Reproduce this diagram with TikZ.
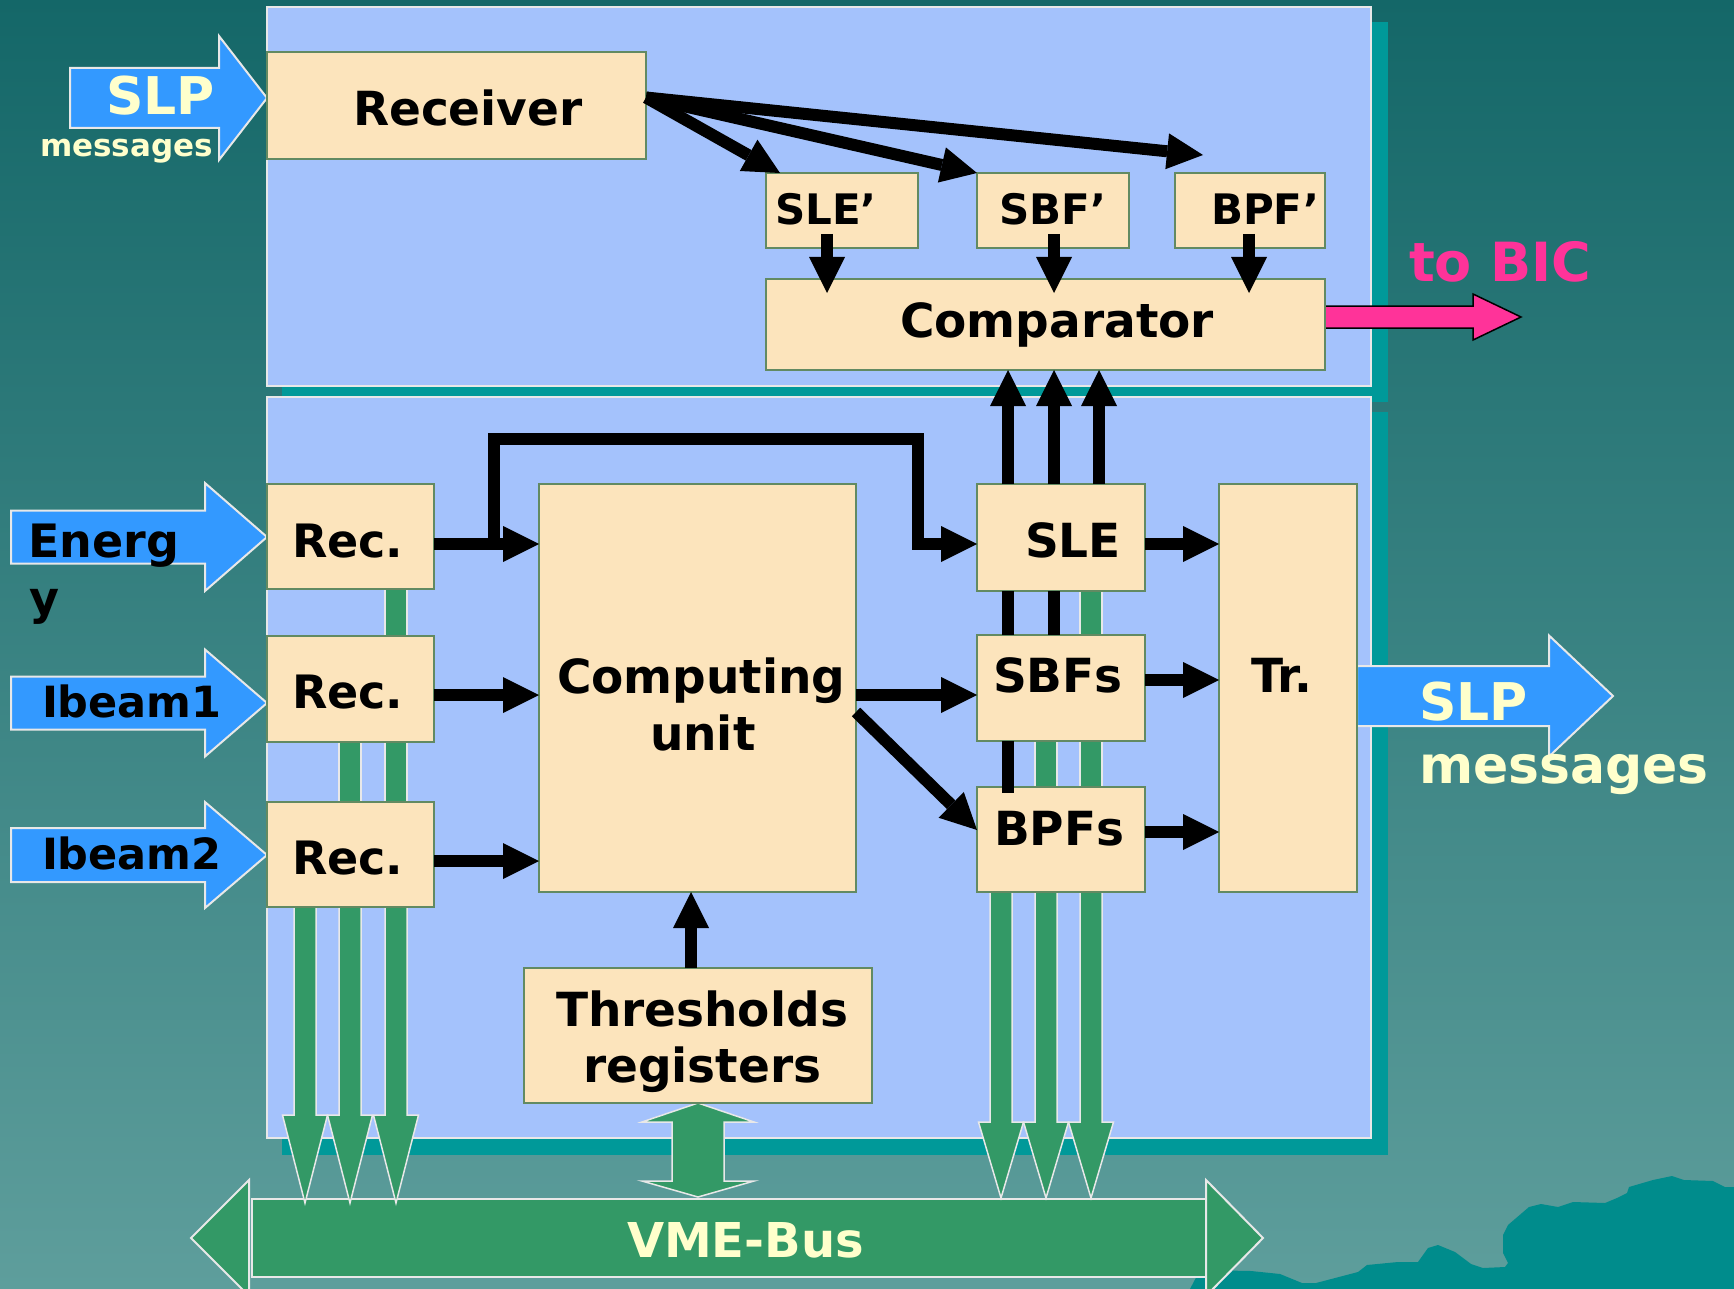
\documentclass[tikz,border=0pt]{standalone}
\usepackage{fontspec}
\setmainfont{DejaVu Sans}
\usetikzlibrary{arrows.meta,calc}
\pgfdeclarelayer{back}
\pgfdeclarelayer{mid}
\pgfsetlayers{back,mid,main}
\definecolor{bgtop}{RGB}{20,103,104}
\definecolor{bgbot}{RGB}{94,158,156}
\definecolor{panelc}{RGB}{164,194,252}
\definecolor{panelline}{RGB}{232,232,232}
\definecolor{shadowc}{RGB}{0,153,153}
\definecolor{boxfill}{RGB}{252,228,188}
\definecolor{boxline}{RGB}{98,138,98}
\definecolor{busgreen}{RGB}{51,153,102}
\definecolor{slpblue}{RGB}{51,153,255}
\definecolor{lightyel}{RGB}{255,255,204}
\definecolor{pinkc}{RGB}{255,51,153}
\definecolor{mount}{RGB}{0,140,140}
\newcommand\fsz[1]{\fontsize{#1}{#1}\selectfont\bfseries}
\newcommand\rblock[6]{\filldraw[#1] let \p1=(#2) in (\x1,\y1) -- (\x1-#4,\y1+#6) -- (\x1-#4,\y1+#5) -- (\x1-#4-#3,\y1+#5) -- (\x1-#4-#3,\y1-#5) -- (\x1-#4,\y1-#5) -- (\x1-#4,\y1-#6) -- cycle;}
\newcommand\greenbar[2]{\filldraw[gbar] let \p1=(#1), \p2=(#2) in (\x1-11pt,\y1) rectangle (\x1+11pt,\y2);}
\newcommand\busarrow[3]{\filldraw[gbar] let \p1=(#1), \p2=(#2) in (\x1-11pt,\y1) -- (\x1-11pt,\y2+#3) -- (\x1-22.5pt,\y2+#3) -- (\x2,\y2) -- (\x1+22.5pt,\y2+#3) -- (\x1+11pt,\y2+#3) -- (\x1+11pt,\y1);}
\begin{document}
\begin{tikzpicture}[x=1pt,y=-1pt,
  box/.style={draw=boxline, fill=boxfill, line width=2pt, inner sep=0pt, outer sep=0pt, rectangle},
  lbl/.style={anchor=base west, inner sep=0pt, outer sep=0pt, text=black},
  arr/.style={line width=12pt, -{Triangle[length=36pt,width=36pt,line width=0pt]}},
  bbar/.style={line width=12pt},
  gbar/.style={fill=busgreen, draw=panelline, line width=1.5pt},
  bluearr/.style={fill=slpblue, draw=panelline, line width=2pt},
  pinkarr/.style={fill=pinkc, draw=black, line width=1.5pt},
  panel/.style={fill=panelc, draw=panelline, line width=2.5pt}]
\useasboundingbox (0,0) rectangle (1734,1289);

\begin{pgfonlayer}{back}
\shade[top color=bgtop, bottom color=bgbot] (0,0) rectangle (1734,1289);
\fill[mount] (1190,1289) -- (1200,1270) -- (1251,1271) -- (1280,1274) -- (1302,1283) -- (1316,1283) -- (1358,1272) -- (1367,1265) -- (1398,1262) -- (1418,1262) -- (1428,1248) -- (1438,1245) -- (1455,1252) -- (1471,1264) -- (1483,1268) -- (1505,1267) -- (1508,1263) -- (1503,1253) -- (1503,1235) -- (1508,1225) -- (1529,1207) -- (1541,1204) -- (1558,1207) -- (1573,1202) -- (1605,1203) -- (1617,1198) -- (1627,1193) -- (1629,1187) -- (1653,1180) -- (1672,1176) -- (1684,1180) -- (1713,1181) -- (1725,1187) -- (1734,1187) -- (1734,1289) -- cycle;
\fill[shadowc] (282,22) rectangle (1388,402);
\filldraw[panel] (267,7) rectangle (1371,386);
\fill[shadowc] (282,412) rectangle (1388,1155);
\filldraw[panel] (267,397) rectangle (1371,1138);
\end{pgfonlayer}

% boxes
\node[box, minimum width=379pt, minimum height=107pt] (rcv) at (456.5,105.5) {};
\node[box, minimum width=152pt, minimum height=75pt] (sle1) at (842,210.5) {};
\node[box, minimum width=152pt, minimum height=75pt] (sbf1) at (1053,210.5) {};
\node[box, minimum width=150pt, minimum height=75pt] (bpf1) at (1250,210.5) {};
\node[box, minimum width=559pt, minimum height=91pt] (cmp) at (1045.5,324.5) {};
\node[box, minimum width=167pt, minimum height=105pt] (rec1) at (350.5,536.5) {};
\node[box, minimum width=167pt, minimum height=106pt] (rec2) at (350.5,689) {};
\node[box, minimum width=167pt, minimum height=105pt] (rec3) at (350.5,854.5) {};
\node[box, minimum width=317pt, minimum height=408pt] (cu) at (697.5,688) {};
\node[box, minimum width=348pt, minimum height=135pt] (thr) at (698,1035.5) {};
\node[box, minimum width=168pt, minimum height=107pt] (sle) at (1061,537.5) {};
\node[box, minimum width=168pt, minimum height=106pt] (sbfs) at (1061,688) {};
\node[box, minimum width=168pt, minimum height=105pt] (bpfs) at (1061,839.5) {};
\node[box, minimum width=138pt, minimum height=408pt] (tr) at (1288,688) {};
\node[inner sep=0pt, outer sep=0pt, minimum width=954pt, minimum height=78pt] (vme) at (729,1238) {};

% named coordinates
\coordinate (tE) at ($(rec1.west)+(0,0.5)$);
\coordinate (tI1) at ($(rec2.west)+(0,14)$);
\coordinate (tI2) at ($(rec3.west)+(0,0.5)$);
\coordinate (tS) at ($(rcv.west)+(0,-7.5)$);
\coordinate (tOut) at ($(tr.east)+(256,8)$);
\coordinate (tBIC) at ($(cmp.east)+(196,-7.5)$);
\coordinate (la1) at ($(rec3.south)+(-45.5,0)$);
\coordinate (la2) at ($(rec3.south)+(-0.5,0)$);
\coordinate (la3) at ($(rec3.south)+(45.5,0)$);
\coordinate (lt1) at ($(la1 |- vme.north)+(0,4)$);
\coordinate (lt2) at ($(la2 |- vme.north)+(0,4)$);
\coordinate (lt3) at ($(la3 |- vme.north)+(0,4)$);
\coordinate (ra1) at ($(bpfs.south)+(-60,0)$);
\coordinate (ra2) at ($(bpfs.south)+(-15,0)$);
\coordinate (ra3) at ($(bpfs.south)+(30,0)$);
\coordinate (rt1) at ($(ra1 |- vme.north)+(0,-1)$);
\coordinate (rt2) at ($(ra2 |- vme.north)+(0,-1)$);
\coordinate (rt3) at ($(ra3 |- vme.north)+(0,-1)$);

\begin{pgfonlayer}{mid}
% VME bus
\filldraw[gbar, line width=2pt] (vme.north west) rectangle (vme.south east);
\filldraw[gbar, line width=2pt] ($(vme.north west)+(-3,-19)$) -- ($(vme.west)+(-61,0)$) -- ($(vme.south west)+(-3,19)$) -- cycle;
\filldraw[gbar, line width=2pt] ($(vme.north east)+(0,-19)$) -- ($(vme.east)+(57,0)$) -- ($(vme.south east)+(0,19)$) -- cycle;
% green bars between boxes
\greenbar{$(rec1.south)+(45.5,0)$}{$(rec2.north)+(45.5,0)$}
\greenbar{$(rec2.south)+(-0.5,0)$}{$(rec3.north)+(-0.5,0)$}
\greenbar{$(rec2.south)+(45.5,0)$}{$(rec3.north)+(45.5,0)$}
\greenbar{$(sle.south)+(30,0)$}{$(sbfs.north)+(30,0)$}
\greenbar{$(sbfs.south)+(-15,0)$}{$(bpfs.north)+(-15,0)$}
\greenbar{$(sbfs.south)+(30,0)$}{$(bpfs.north)+(30,0)$}
% bus arrows
\busarrow{la1}{lt1}{88pt}
\busarrow{la2}{lt2}{88pt}
\busarrow{la3}{lt3}{88pt}
\busarrow{ra1}{rt1}{76pt}
\busarrow{ra2}{rt2}{76pt}
\busarrow{ra3}{rt3}{76pt}
% double arrow thresholds <-> bus
\filldraw[gbar] let \p1=(thr.south), \p2=(vme.north) in (\x1,\y1) -- (\x1+56pt,\y1-19pt) -- (\x1+26pt,\y1-19pt) -- (\x1+26pt,\y2+18pt) -- (\x1+56pt,\y2+18pt) -- (\x1,\y2+2pt) -- (\x1-56pt,\y2+18pt) -- (\x1-26pt,\y2+18pt) -- (\x1-26pt,\y1-19pt) -- (\x1-56pt,\y1-19pt) -- cycle;
% input / output block arrows
\rblock{bluearr}{tE}{194pt}{62pt}{26.5pt}{54pt}
\rblock{bluearr}{tI1}{194pt}{62pt}{26.5pt}{53.5pt}
\rblock{bluearr}{tI2}{194pt}{62pt}{27pt}{53pt}
\rblock{bluearr}{tS}{149pt}{48pt}{30pt}{62pt}
\rblock{bluearr}{tOut}{192pt}{64pt}{30pt}{60.5pt}
\rblock{pinkarr}{tBIC}{148pt}{48pt}{11pt}{23pt}
\end{pgfonlayer}

% black connectors
\coordinate (rs) at ($(rcv.east)+(0,-8)$);
\draw[arr] (rs) -- ($(sle1.north west)+(14,0)$);
\draw[arr] (rs) -- (sbf1.north west);
\draw[arr] (rs) -- ($(bpf1.north west)+(28,-18)$);
\draw[arr] ($(sle1.south)+(-15,-14)$) -- ($(sle1.south |- cmp.north)+(-15,14)$);
\draw[arr] ($(sbf1.south)+(1,-14)$) -- ($(sbf1.south |- cmp.north)+(1,14)$);
\draw[arr] ($(bpf1.south)+(-1,-14)$) -- ($(bpf1.south |- cmp.north)+(-1,14)$);
\foreach \dx in {-53,-7,38} {
  \draw[arr] ($(sle.north)+(\dx,0)$) -- ($(sle.north |- cmp.south)+(\dx,0)$);
}
\draw[bbar] ($(sle.south)+(-53,0)$) -- ($(sle.south |- sbfs.north)+(-53,0)$);
\draw[bbar] ($(sle.south)+(-7,0)$) -- ($(sle.south |- sbfs.north)+(-7,0)$);
\draw[bbar] ($(sbfs.south)+(-53,0)$) -- ($(sbfs.south |- bpfs.north)+(-53,6)$);

\draw[arr] ($(rec1.east)+(0,7.5)$) -- ($(rec1.east -| cu.west)+(0,7.5)$);
\draw[arr] ($(rec2.east)+(0,6)$) -- ($(rec2.east -| cu.west)+(0,6)$);
\draw[arr] ($(rec3.east)+(0,6.5)$) -- ($(rec3.east -| cu.west)+(0,6.5)$);
\coordinate (j1) at ($(rec1.east)+(60,7.5)$);
\coordinate (j2) at ($(sle.west |- 0,439)+(-59,0)$);
\draw[arr, line join=miter] (j1) |- (j2) |- ($(sle.west)+(0,6.5)$);
\draw[arr] ($(cu.east)+(0,7)$) -- ($(sbfs.west)+(0,7)$);
\draw[arr] ($(cu.east)+(0,24)$) -- ($(bpfs.west)+(0,-9.5)$);
\draw[arr] ($(sle.east)+(0,6.5)$) -- ($(sle.east -| tr.west)+(0,6.5)$);
\draw[arr] ($(sbfs.east)+(0,-8)$) -- ($(sbfs.east -| tr.west)+(0,-8)$);
\draw[arr] ($(bpfs.east)+(0,-7.5)$) -- ($(bpfs.east -| tr.west)+(0,-7.5)$);
\draw[arr] ($(thr.north)+(-7,0)$) -- ($(thr.north |- cu.south)+(-7,0)$);

% labels
\node[lbl, font=\fsz{47}] (Lrcv) at (353,126) {Receiver};
\node[lbl, font=\fsz{42}] (Lsle1) at (775,225) {SLE’};
\node[lbl, font=\fsz{42}] (Lsbf1) at (999,225) {SBF’};
\node[lbl, font=\fsz{42}] (Lbpf1) at (1211,225) {BPF’};
\node[lbl, font=\fsz{47}] (Lcmp) at (900,337) {Comparator};
\node[lbl, font=\fsz{54}, text=pinkc] (Lbic) at (1409,282) {to BIC};
\node[lbl, font=\fsz{52}, text=lightyel] (Lslp1) at (106,115) {SLP};
\node[lbl, font=\fsz{31}, text=lightyel] (Lmsg1) at (40,157) {messages};
\node[lbl, font=\fsz{46}] (Lenergy) at (28,557) {Energ};
\node[lbl, font=\fsz{46}] (Ly) at (29,614) {y};
\node[lbl, font=\fsz{43}] (Lib1) at (42,717) {Ibeam1};
\node[lbl, font=\fsz{43}] (Lib2) at (42,869) {Ibeam2};
\node[lbl, font=\fsz{46}] (Lrec1) at (292,557) {Rec.};
\node[lbl, font=\fsz{46}] (Lrec2) at (292,708) {Rec.};
\node[lbl, font=\fsz{46}] (Lrec3) at (292,874) {Rec.};
\node[lbl, font=\fsz{47}] (Lcu1) at (557,693) {Computing};
\node[lbl, font=\fsz{47}] (Lcu2) at (650,750) {unit};
\node[lbl, font=\fsz{47}] (Lthr1) at (556,1026) {Thresholds};
\node[lbl, font=\fsz{47}] (Lthr2) at (583,1082) {registers};
\node[lbl, font=\fsz{47}] (Lsle) at (1025,557) {SLE};
\node[lbl, font=\fsz{47}] (Lsbfs) at (993,692) {SBFs};
\node[lbl, font=\fsz{47}] (Lbpfs) at (994,845) {BPFs};
\node[lbl, font=\fsz{47}] (Ltr) at (1251,692) {Tr.};
\node[lbl, font=\fsz{52}, text=lightyel] (Lslp2) at (1419,720) {SLP};
\node[lbl, font=\fsz{52}, text=lightyel] (Lmsg2) at (1419,783) {messages};
\node[lbl, font=\fsz{48}, text=lightyel] (Lvme) at (627,1257) {VME-Bus};
\end{tikzpicture}
\end{document}
